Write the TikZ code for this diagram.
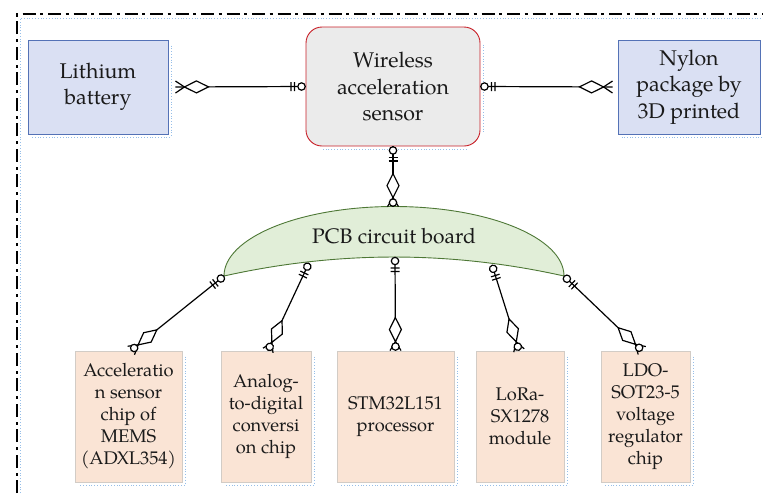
\documentclass[tikz,border=0pt]{standalone}
\usepackage{fontspec}
\setmainfont{TeX Gyre Pagella}
\usetikzlibrary{decorations.markings,calc}
\definecolor{bluefill}{RGB}{218,224,243}
\definecolor{bluedraw}{RGB}{84,114,182}
\definecolor{greyfill}{RGB}{235,235,235}
\definecolor{reddraw}{RGB}{200,32,40}
\definecolor{greenfill}{RGB}{225,238,216}
\definecolor{greendraw}{RGB}{78,120,54}
\definecolor{peachfill}{RGB}{250,228,213}
\definecolor{peachdraw}{RGB}{210,204,198}
\definecolor{shadowblue}{RGB}{150,190,232}
\definecolor{txt}{RGB}{26,26,26}
\tikzset{
  topfont/.style={font=\fontsize{21.3}{26.5}\selectfont, text=txt, align=center},
  botfont/.style={font=\fontsize{18.3}{22}\selectfont, text=txt, align=center},
  bluebox/.style={draw=bluedraw, fill=bluefill, line width=0.9pt, inner sep=0pt, topfont},
  sensorbox/.style={draw=reddraw, fill=greyfill, line width=0.9pt, rounded corners=16pt, inner sep=0pt, topfont},
  partbox/.style={draw=peachdraw, fill=peachfill, line width=0.9pt, inner sep=0pt, minimum height=131pt, botfont},
  shd/.style={draw=shadowblue, dotted, line width=0.8pt},
  conn/.style={draw=black, line width=1.2pt},
  pend/.style={postaction={decorate, decoration={markings,
    mark=at position 4pt with {\draw[line width=1.2pt, fill=white] (0,0) circle (3.7pt);},
    mark=at position 11pt with {\draw[line width=1.2pt] (0,-4.5pt) -- (0,4.5pt);},
    mark=at position 14.5pt with {\draw[line width=1.2pt] (0,-4.5pt) -- (0,4.5pt);}}}},
  cend/.style={postaction={decorate, decoration={markings,
    mark=at position -21pt with {\draw[line width=1.2pt, fill=white] (-12pt,0) -- (0,6pt) -- (12pt,0) -- (0,-6pt) -- cycle;},
    mark=at position -9pt with {\draw[line width=1.2pt] (0,0) -- (9pt,5.5pt) (0,0) -- (9pt,-5.5pt);},
    mark=at position -4pt with {\draw[line width=1.2pt, fill=white] (0,0) circle (3.7pt);}}}},
  cendb/.style={postaction={decorate, decoration={markings,
    mark=at position -21pt with {\draw[line width=1.2pt, fill=white] (-12pt,0) -- (0,6pt) -- (12pt,0) -- (0,-6pt) -- cycle;},
    mark=at position -9pt with {\draw[line width=1.2pt] (0,0) -- (9pt,6pt) (0,0) -- (9pt,-6pt);}}}},
}
\newcommand\boxshadow[1]{\draw[shd] ([shift={(2.5,6)}]#1.north east) -- ([shift={(2.5,2.5)}]#1.south east) -- ([shift={(4,2.5)}]#1.south west);}
\begin{document}
\begin{tikzpicture}[x=1pt, y=-1pt]
\useasboundingbox (0,0) rectangle (763,493);
% frame
\draw[shd] (20,493) -- (20,18) -- (763,18);
\draw[line width=2.2pt, dash pattern=on 13pt off 4.5pt on 3pt off 5pt] (17,493) -- (17,14) -- (763,14);
% top row
\node[bluebox, minimum width=140pt, minimum height=94pt] (lith) at (98,87) {Lithium\\battery};
\node[sensorbox, minimum width=174pt, minimum height=119pt] (wsn) at (393,86.5) {Wireless\\acceleration\\sensor};
\node[bluebox, minimum width=142pt, minimum height=94pt] (nyl) at (689,87) {Nylon\\package by\\3D printed};
\boxshadow{lith}
\draw[shd] ([shift={(2.5,18)}]wsn.north east) -- ([shift={(2.5,-14)}]wsn.south east);
\draw[shd] ([shift={(-14,2.5)}]wsn.south east) -- ([shift={(16,2.5)}]wsn.south west);
\boxshadow{nyl}
% PCB
\path[draw=greendraw, fill=greenfill, line width=0.9pt]
  (224,276) arc[start angle=180, end angle=0, x radius=170pt, y radius=69.5pt]
  .. controls (450.7,250.7) and (337.3,250.7) .. cycle;
\node[font=\fontsize{21}{25}\selectfont, text=txt] (pcb) at (394,236) {PCB circuit board};
\coordinate (pcbT) at (393,206.6);
\coordinate (p1) at (224,276);
\coordinate (p2) at (309,263);
\coordinate (p3) at (395,257);
\coordinate (p4) at (492,265);
\coordinate (p5) at (564,276);
% bottom row
\node[partbox, minimum width=107pt] (b1) at (128.5,416.5) {Acceleratio\\n sensor\\chip of\\MEMS\\(ADXL354)};
\node[partbox, minimum width=90pt] (b2) at (266,416.5) {Analog-\\to-digital\\conversi\\on chip};
\node[partbox, minimum width=117pt] (b3) at (395.5,416.5) {STM32L151\\processor};
\node[partbox, minimum width=88pt] (b4) at (520,416.5) {LoRa-\\SX1278\\module};
\node[partbox, minimum width=89pt] (b5) at (645.5,416.5) {LDO-\\SOT23-5\\voltage\\regulator\\chip};
\foreach \b in {b1,b2,b3,b4,b5} {\boxshadow{\b}}
% connectors
\draw[conn, pend, cendb] (wsn.west) -- ([xshift=7pt]lith.east);
\draw[conn, pend, cendb] (wsn.east) -- ([xshift=-5pt]nyl.west);
\draw[conn, pend, cend] (wsn.south) -- (pcbT);
\draw[conn, pend, cend] (p1) -- ([xshift=2.5pt]b1.north);
\draw[conn, pend, cend] (p2) -- ([xshift=2pt]b2.north);
\draw[conn, pend, cend] (p3) -- (b3.north);
\draw[conn, pend, cend] (p4) -- ([xshift=-1pt]b4.north);
\draw[conn, pend, cend] (p5) -- ([xshift=-3.5pt]b5.north);
\end{tikzpicture}
\end{document}
